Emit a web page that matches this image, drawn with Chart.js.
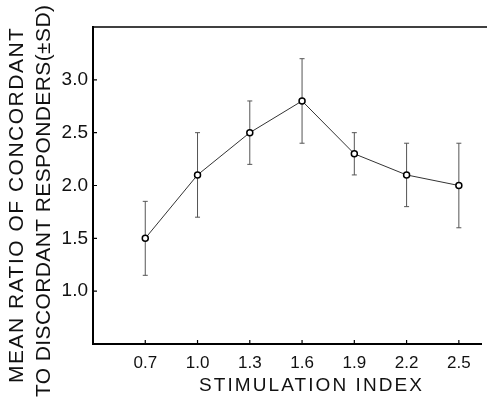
<!DOCTYPE html>
<html>
<head>
<meta charset="utf-8">
<style>
  html, body { margin: 0; padding: 0; background: #fff; overflow: hidden; }
  canvas { display: block; }
</style>
<script src="https://cdn.jsdelivr.net/npm/chart.js@4/dist/chart.umd.min.js"></script>
</head>
<body>
<canvas id="c" width="487" height="402"></canvas>
<script>
const xValues = [0.7, 1.0, 1.3, 1.6, 1.9, 2.2, 2.5];
const xTickLabels = ['0.7', '1.0', '1.3', '1.6', '1.9', '2.2', '2.5'];
const meanRatio = [1.5, 2.1, 2.5, 2.8, 2.3, 2.1, 2.0];
const sdValues = [0.35, 0.4, 0.3, 0.4, 0.2, 0.3, 0.4];
const yTickValues = [1.0, 1.5, 2.0, 2.5, 3.0];
const yTickLabels = ['1.0', '1.5', '2.0', '2.5', '3.0'];
const yTitleLines = ['MEAN RATIO OF CONCORDANT', 'TO DISCORDANT RESPONDERS(±SD)'];
const xTitle = 'STIMULATION INDEX';

const FONT = "'Liberation Sans', Arial, sans-serif";

function spacedText(ctx, text, x, y, span) {
  ctx.letterSpacing = '0px';
  const w = ctx.measureText(text).width;
  const sp = (span - w) / (text.length - 1);
  ctx.letterSpacing = sp.toFixed(2) + 'px';
  ctx.fillText(text, x, y);
  ctx.letterSpacing = '0px';
}

const decorPlugin = {
  id: 'decor',
  beforeDatasetsDraw(chart) {
    const ctx = chart.ctx;
    const xs = chart.scales.x, ys = chart.scales.y;
    ctx.save();
    ctx.strokeStyle = '#555';
    ctx.lineWidth = 1;
    xValues.forEach((xv, i) => {
      const px = xs.getPixelForValue(xv);
      const top = ys.getPixelForValue(meanRatio[i] + sdValues[i]);
      const bot = ys.getPixelForValue(meanRatio[i] - sdValues[i]);
      ctx.beginPath();
      ctx.moveTo(px, top); ctx.lineTo(px, bot);
      ctx.moveTo(px - 2.5, top); ctx.lineTo(px + 2.5, top);
      ctx.moveTo(px - 2.5, bot); ctx.lineTo(px + 2.5, bot);
      ctx.stroke();
    });
    ctx.restore();
  },
  afterDraw(chart) {
    const ctx = chart.ctx;
    const a = chart.chartArea;
    const xs = chart.scales.x, ys = chart.scales.y;
    ctx.save();
    ctx.strokeStyle = '#000';
    ctx.lineWidth = 1.5;
    ctx.beginPath();
    ctx.moveTo(a.left - 1, a.top);
    ctx.lineTo(chart.width, a.top);
    ctx.stroke();
    ctx.lineWidth = 1.2;
    ctx.beginPath();
    xValues.forEach(v => {
      const px = xs.getPixelForValue(v);
      ctx.moveTo(px, a.bottom); ctx.lineTo(px, a.bottom - 4);
    });
    yTickValues.forEach(v => {
      const py = ys.getPixelForValue(v);
      ctx.moveTo(a.left, py); ctx.lineTo(a.left + 4, py);
    });
    ctx.stroke();

    ctx.fillStyle = '#111';
    ctx.textBaseline = 'alphabetic';
    ctx.textAlign = 'left';
    ctx.font = '19px ' + FONT;
    spacedText(ctx, xTitle, 199, 390.5, 223);

    ctx.font = '21px ' + FONT;
    ctx.save();
    ctx.translate(22.7, 383);
    ctx.rotate(-Math.PI / 2);
    spacedText(ctx, yTitleLines[0], 0, 0, 355);
    ctx.restore();
    ctx.save();
    ctx.translate(50, 397);
    ctx.rotate(-Math.PI / 2);
    spacedText(ctx, yTitleLines[1], 0, 0, 392);
    ctx.restore();
    ctx.restore();
  }
};

new Chart(document.getElementById('c'), {
  type: 'line',
  data: {
    datasets: [{
      data: xValues.map((x, i) => ({ x: x, y: meanRatio[i] })),
      borderColor: '#333',
      borderWidth: 1,
      tension: 0,
      pointRadius: 3,
      pointBorderWidth: 1.5,
      pointBorderColor: '#000',
      pointBackgroundColor: '#fff'
    }]
  },
  options: {
    responsive: false,
    animation: false,
    layout: { padding: { top: 27, right: 0, bottom: 0, left: 0 } },
    plugins: { legend: { display: false }, tooltip: { enabled: false } },
    scales: {
      x: {
        type: 'linear',
        min: 0.4,
        max: 2.63,
        grid: { display: false, drawTicks: false },
        border: { display: true, color: '#000', width: 2 },
        afterBuildTicks: s => { s.ticks = xValues.map(v => ({ value: v })); },
        afterFit: s => { s.height = 58; s.paddingLeft = 0; s.paddingRight = 0; },
        ticks: {
          callback: (v, i) => xTickLabels[i],
          font: { family: FONT, size: 17 },
          color: '#111',
          padding: 9,
          maxRotation: 0,
          autoSkip: false
        }
      },
      y: {
        type: 'linear',
        min: 0.5,
        max: 3.5,
        grid: { display: false, drawTicks: false },
        border: { display: true, color: '#000', width: 2 },
        afterBuildTicks: s => { s.ticks = yTickValues.map(v => ({ value: v })); },
        afterFit: s => { s.width = 93; s.paddingTop = 0; s.paddingBottom = 0; },
        ticks: {
          callback: (v, i) => yTickLabels[i],
          font: { family: FONT, size: 19 },
          color: '#111',
          padding: 5,
          autoSkip: false
        }
      }
    }
  },
  plugins: [decorPlugin]
});
</script>
</body>
</html>
